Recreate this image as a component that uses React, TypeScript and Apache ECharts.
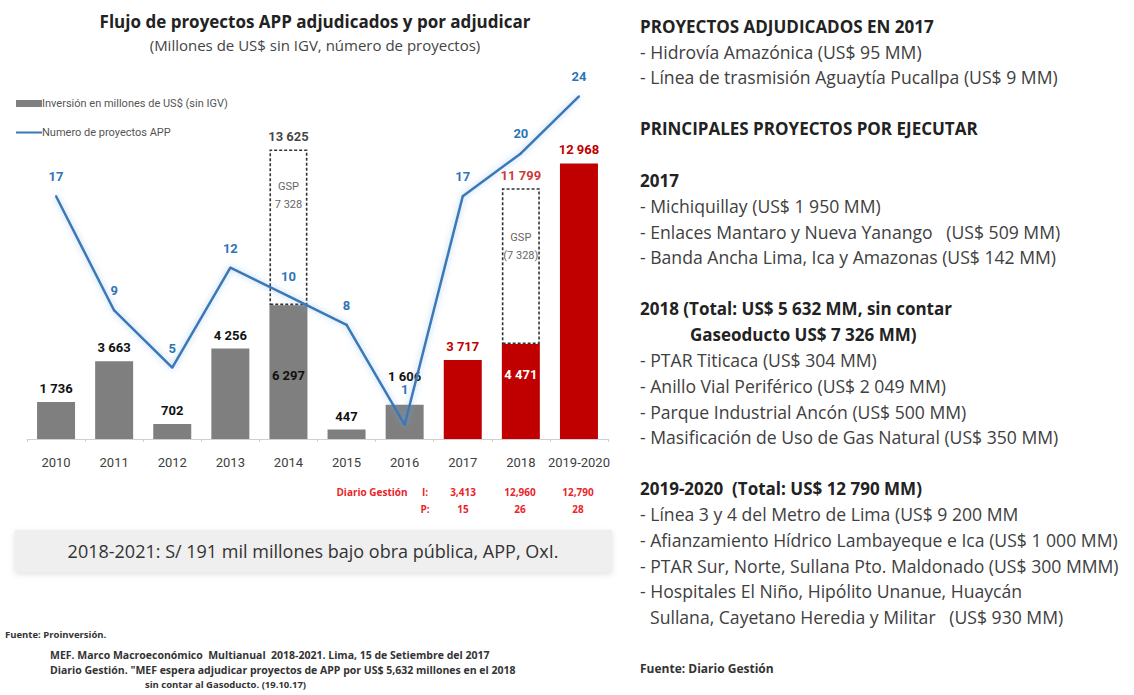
import React, { useEffect, useRef } from "react";
import * as echarts from "echarts";

const categories = ["2010", "2011", "2012", "2013", "2014", "2015", "2016", "2017", "2018", "2019-2020"];
const investment = [1736, 3663, 702, 4256, 6297, 447, 1606, 3717, 4471, 12968];
const gspExtra: (number | null)[] = [null, null, null, null, 7328, null, null, null, 7328, null];
const gspLabels = ["GSP\n7 328", "GSP\n(7 328)"];
const projects = [17, 9, 5, 12, 10, 8, 1, 17, 20, 24];
const firstPending = 7; // from 2017 on: por adjudicar (red)

const gestionLabel = "Diario Gestión";
const gestionInv = ["3,413", "12,960", "12,790"];
const gestionProj = ["15", "26", "28"];

const titleText = "Flujo de proyectos APP adjudicados y por adjudicar";
const subtitleText = "(Millones de US$ sin IGV, número de proyectos)";
const legendBar = "Inversión en millones de US$ (sin IGV)";
const legendLine = "Numero de proyectos APP";
const boxText = "2018-2021: S/ 191 mil millones bajo obra pública, APP, OxI.";
const sourceLines = [
  "MEF. Marco Macroeconómico  Multianual  2018-2021. Lima, 15 de Setiembre del 2017",
  "Diario Gestión. \"MEF espera adjudicar proyectos de APP por US$ 5,632 millones en el 2018",
  "sin contar al Gasoducto. (19.10.17)",
];
const sourceHead = "Fuente: Proinversión.";

const rightLines: { t: string; b?: boolean }[] = [
  { t: "PROYECTOS ADJUDICADOS EN 2017", b: true },
  { t: "- Hidrovía Amazónica (US$ 95 MM)" },
  { t: "- Línea de trasmisión Aguaytía Pucallpa (US$ 9 MM)" },
  { t: "" },
  { t: "PRINCIPALES PROYECTOS POR EJECUTAR", b: true },
  { t: "" },
  { t: "2017", b: true },
  { t: "- Michiquillay (US$ 1 950 MM)" },
  { t: "- Enlaces Mantaro y Nueva Yanango   (US$ 509 MM)" },
  { t: "- Banda Ancha Lima, Ica y Amazonas (US$ 142 MM)" },
  { t: "" },
  { t: "2018 (Total: US$ 5 632 MM, sin contar", b: true },
  { t: "Gaseoducto US$ 7 326 MM)", b: true },
  { t: "- PTAR Titicaca (US$ 304 MM)" },
  { t: "- Anillo Vial Periférico (US$ 2 049 MM)" },
  { t: "- Parque Industrial Ancón (US$ 500 MM)" },
  { t: "- Masificación de Uso de Gas Natural (US$ 350 MM)" },
  { t: "" },
  { t: "2019-2020  (Total: US$ 12 790 MM)", b: true },
  { t: "- Línea 3 y 4 del Metro de Lima (US$ 9 200 MM" },
  { t: "- Afianzamiento Hídrico Lambayeque e Ica (US$ 1 000 MM)" },
  { t: "- PTAR Sur, Norte, Sullana Pto. Maldonado (US$ 300 MMM)" },
  { t: "- Hospitales El Niño, Hipólito Unanue, Huaycán" },
  { t: "Sullana, Cayetano Heredia y Militar   (US$ 930 MM)" },
];
const rightSource = "Fuente: Diario Gestión";

const NARROW = "Roboto, 'Liberation Sans Narrow', sans-serif";
const SANS = "'Open Sans', 'Noto Sans', sans-serif";
const GRAY = "#7f7f7f";
const RED = "#c00000";
const BLUE = "#3a78b5";

const fmt = (v: number) => String(v).replace(/\B(?=(\d{3})+(?!\d))/g, " ");

export default function App() {
  const ref = useRef<HTMLDivElement>(null);
  useEffect(() => {
    if (!ref.current) return;
    const chart = echarts.init(ref.current, null, { renderer: "svg" });

    const totals = investment.map((v, i) => (gspExtra[i] != null ? v + (gspExtra[i] as number) : null));
    let gi = 0;
    const gspData = gspExtra.map((v) => {
      if (v == null) return null;
      const k = gi++;
      return { value: v, label: { formatter: gspLabels[k], distance: k === 0 ? 28 : 40 } };
    });

    // the line dips into the 2016 bar: lift both labels there
    const crowded = 6;

    const baseData = investment.map((v, i) => {
      const pending = i >= firstPending;
      const hasGsp = gspExtra[i] != null;
      return {
        value: v,
        itemStyle: { color: pending ? RED : GRAY },
        label: hasGsp
          ? {
              position: "insideTop",
              distance: pending ? 24 : 64,
              color: pending ? "#ffffff" : "#111111",
            }
          : { position: "top", distance: i === crowded ? 22 : 7, color: pending ? RED : "#111111" },
      };
    });

    const lineData = projects.map((v, i) =>
      i === crowded ? { value: v, label: { distance: 28 } } : v
    );

    const graphics: any[] = [];
    const txt = (text: string, x: number, y: number, size: number, opts: any = {}) =>
      graphics.push({
        type: "text",
        x,
        y,
        silent: true,
        style: {
          text,
          fontSize: size,
          fontFamily: opts.family || SANS,
          fontWeight: opts.bold ? "bold" : "normal",
          fill: opts.color || "#333333",
          align: opts.align || "left",
          verticalAlign: "middle",
        },
      });

    txt(titleText, 315, 21, 17, { bold: true, align: "center", color: "#222" });
    txt(subtitleText, 315, 45, 15, { align: "center", color: "#444" });

    // Diario Gestión row
    const red2 = "#e8262a";
    txt(gestionLabel, 372, 492, 10, { bold: true, align: "center", color: red2 });
    txt("I:", 425, 492, 10, { bold: true, align: "center", color: red2 });
    txt("P:", 425, 509, 10, { bold: true, align: "center", color: red2 });
    const colX = [463, 520, 578];
    gestionInv.forEach((s, k) => txt(s, colX[k], 492, 10, { bold: true, align: "center", color: red2 }));
    gestionProj.forEach((s, k) => txt(s, colX[k], 509, 10, { bold: true, align: "center", color: red2 }));

    // gray box
    graphics.push({
      type: "rect",
      silent: true,
      shape: { x: 15, y: 530, width: 597, height: 42 },
      style: { fill: "#efefef", shadowBlur: 6, shadowColor: "rgba(0,0,0,0.12)", shadowOffsetY: 2 },
    });
    txt(boxText, 313, 551, 18, { align: "center", color: "#333" });

    // sources
    txt(sourceHead, 5, 634, 9.5, { bold: true, color: "#333" });
    txt(sourceLines[0], 50, 655, 10.5, { bold: true, color: "#333" });
    txt(sourceLines[1], 50, 670, 10.5, { bold: true, color: "#333" });
    txt(sourceLines[2], 145, 684, 9.5, { bold: true, color: "#333" });

    // right text
    const indents: Record<number, number> = { 12: 50, 23: 10 };
    rightLines.forEach((l, k) => {
      if (!l.t) return;
      txt(l.t, 640 + (indents[k] || 0), 26 + k * 25.7, l.b ? 17 : 17.6, {
        bold: l.b,
        color: l.b ? "#222" : "#404040",
      });
    });
    txt(rightSource, 640, 668, 12, { bold: true, color: "#333" });

    chart.setOption({
      animation: false,
      backgroundColor: "#ffffff",
      grid: { left: 27, right: 526, top: 82, bottom: 256, containLabel: false },
      legend: {
        left: 10,
        top: 93,
        orient: "vertical",
        itemGap: 18,
        itemWidth: 26,
        itemHeight: 7,
        textStyle: { fontFamily: NARROW, fontSize: 11, color: "#555", padding: [0, 0, 0, -5] },
        data: [
          { name: legendBar, icon: "rect" },
          { name: legendLine, itemStyle: { opacity: 0 } },
        ],
      },
      xAxis: {
        type: "category",
        data: categories,
        axisLine: { lineStyle: { color: "#d0d0d0" } },
        axisTick: { show: true, length: 3, lineStyle: { color: "#d0d0d0" } },
        axisLabel: { interval: 0, fontFamily: NARROW, fontSize: 13, color: "#404040", margin: 17 },
      },
      yAxis: [
        { type: "value", min: 0, max: 16800, show: false, splitLine: { show: false } },
        { type: "value", min: 0, max: 25, show: false, splitLine: { show: false } },
      ],
      series: [
        {
          name: legendBar,
          type: "bar",
          stack: "inv",
          barWidth: 38,
          itemStyle: { color: GRAY },
          label: {
            show: true,
            fontFamily: NARROW,
            fontWeight: "bold",
            fontSize: 13,
            formatter: (p: any) => fmt(p.value),
          },
          data: baseData,
          z: 2,
        },
        {
          name: "GSP",
          type: "bar",
          stack: "inv",
          barWidth: 38,
          itemStyle: {
            color: "rgba(255,255,255,0)",
            borderColor: "#333",
            borderWidth: 1.6,
            borderType: [3, 2],
          },
          label: {
            show: true,
            position: "insideTop",
            fontFamily: NARROW,
            fontSize: 11,
            lineHeight: 18,
            color: "#666",
          },
          data: gspData,
          z: 2,
        },
        {
          name: "total",
          type: "scatter",
          symbolSize: 0,
          label: {
            show: true,
            position: "top",
            distance: 6,
            fontFamily: NARROW,
            fontWeight: "bold",
            fontSize: 13,
            formatter: (p: any) => fmt(p.value),
          },
          data: totals.map((v, i) =>
            v == null ? null : { value: v, label: { color: i >= firstPending ? RED : "#111" } }
          ),
          z: 3,
        },
        {
          name: legendLine,
          type: "line",
          yAxisIndex: 1,
          data: lineData,
          symbol: "circle",
          symbolSize: 2,
          showSymbol: true,
          itemStyle: { color: BLUE },
          lineStyle: {
            color: BLUE,
            width: 2.5,
            shadowColor: "rgba(110,170,230,0.6)",
            shadowBlur: 6,
          },
          label: {
            show: true,
            position: "top",
            distance: 12,
            fontFamily: NARROW,
            fontWeight: "bold",
            fontSize: 13,
            color: "#2e75b6",
          },
          z: 4,
        },
      ],
      graphic: graphics,
    });
    return () => chart.dispose();
  }, []);
  return (
    <div
      ref={ref}
      style={{ position: "fixed", left: 0, top: 0, width: 1134, height: 695, background: "#fff" }}
    />
  );
}
